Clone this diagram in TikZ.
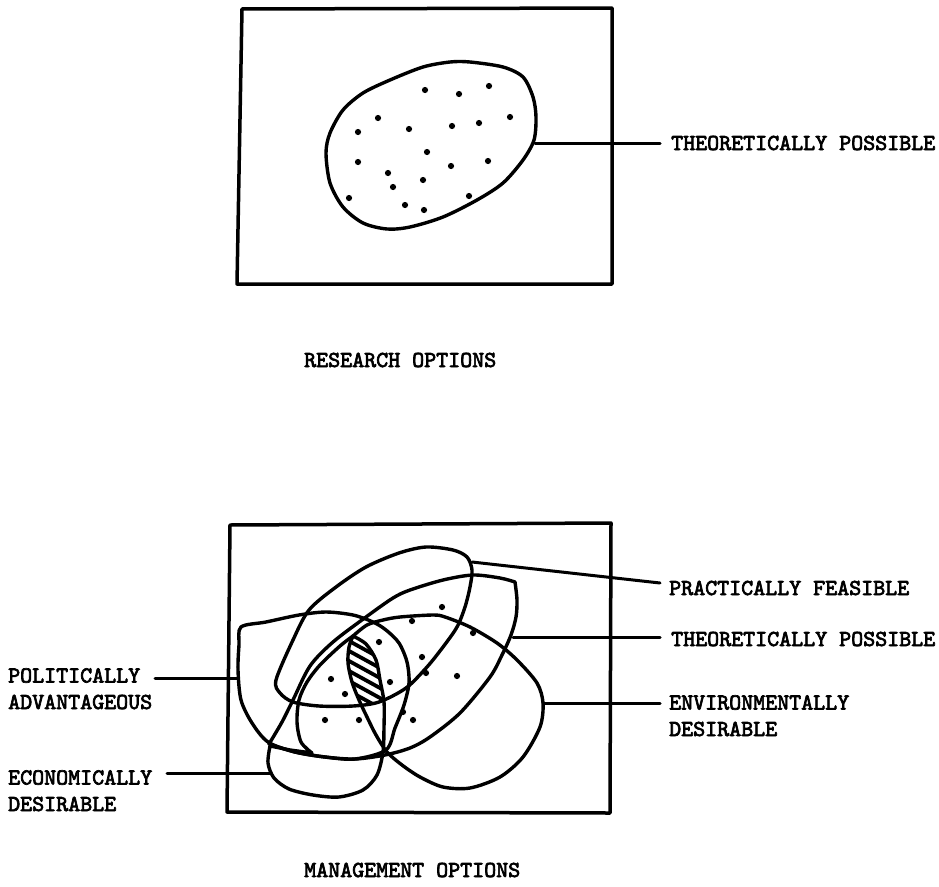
\documentclass[tikz,border=0pt]{standalone}
\usepackage{fontspec}
\newfontfamily\typewriter{lmmono10-regular.otf}[FakeBold=3]
\begin{document}
\begin{tikzpicture}[x=1pt,y=-1pt,
  frame/.style={line width=3.5pt, line join=round, line cap=round},
  region/.style={line width=3.4pt, line join=round, line cap=round},
  leader/.style={line width=3pt, line cap=round},
  label/.style={font=\typewriter\fontsize{22.86}{26.5}\selectfont,
    inner sep=0pt, anchor=base west, align=left}]
\useasboundingbox (0,0) rectangle (939,886);

% ---------- research options ----------
\draw[frame] (242,9) -- (612,8) -- (612,284) -- (237,284) -- cycle;
\draw[region] plot[smooth cycle] coordinates {(470,62) (503,67) (523,77) (533,97)
  (536,117) (534,140) (523,160) (503,183) (477,200) (443,217) (410,227) (387,229)
  (363,223) (343,207) (330,183) (326,153) (330,133) (343,110) (363,93) (390,80)
  (423,67) (450,62)};
\foreach \x/\y in {425/90,459/94,489/86,378/118,358/132,409/129,452/126,479/123,
  510/117,427/152,358/162,388/173,451/166,488/161,423/180,393/187,349/198,
  405/205,424/210,469/196}
  \fill (\x,\y) circle[radius=3.1pt];
\coordinate (tpA-hit) at (535,143);
\coordinate (tpA-lead) at (660,143);
\node[label] (tpA-label) at (671,150) {THEORETICALLY POSSIBLE};
\draw[leader] (tpA-hit) -- (tpA-lead);
\node[label] (research) at (304,367) {RESEARCH OPTIONS};

% ---------- management options ----------
\draw[frame] (230,525) -- (611,523) -- (610,813) -- (227,812) -- cycle;

\def\pfpath{plot[smooth cycle] coordinates {(276,680) (293,640) (309,610) (336,587)
  (366,567) (399,553) (426,547) (453,550) (467,557) (472,570) (470,587) (465,607)
  (457,627) (443,647) (427,667) (406,688) (379,702) (353,706) (319,706) (293,702)
  (280,693)}}
\def\tppath{plot[smooth] coordinates {(515,582) (517,600) (516,617) (511,635)
  (502,655) (490,677) (460,713) (430,737) (410,748) (385,755) (355,759) (325,757)
  (295,752) (269,744)} -- plot[smooth] coordinates {(269,744) (282,722) (293,700)
  (310,666) (333,642) (366,617) (393,598) (410,590) (443,580) (473,575) (500,578)
  (515,582)} -- cycle}
\def\papath{plot[smooth cycle, tension=.5] coordinates {(241,627) (266,622)
  (299,615) (326,612) (353,615) (373,622) (386,630) (399,643) (407,662) (409,683)
  (404,705) (395,728) (386,750) (355,759) (325,757) (295,752) (268,742) (252,723)
  (241,700) (238,670) (239,645)}}
\def\edpath{plot[smooth] coordinates {(312,753) (301,742) (297,722) (299,700)
  (307,682) (320,665) (340,646) (353,636)} -- plot[smooth] coordinates {(353,636)
  (366,644) (376,660) (380,680) (384,702) (384,727) (383,752) (377,775) (363,790)
  (339,797) (313,795) (289,789) (274,778) (268,763) (270,746)} -- (290,750) -- cycle}
\def\envpath{plot[smooth] coordinates {(353,636) (367,625) (383,620) (400,617)
  (433,615) (445,617) (470,627) (497,643) (517,660) (537,683) (543,703) (540,727)
  (523,757) (500,777) (470,788) (443,787) (420,777) (402,765) (387,752) (376,735)
  (367,717) (359,700) (352,682) (348,663) (349,647) (353,636)} -- cycle}

% shaded common ground of all the sets
\begin{scope}
  \clip \envpath;
  \clip \edpath;
  \clip \pfpath;
  \foreach \k in {0,...,14}
    \draw[line width=3.8pt] (320,585+10*\k) -- ++(80,44);
\end{scope}

\draw[region] \pfpath;
\draw[region] \tppath;
\draw[region] \papath;
\draw[region] \edpath;
\draw[region] \envpath;

\foreach \x/\y in {442/607,412/621,473/633,379/642,422/657,426/673,457/676,
  331/679,390/682,345/694,403/712,413/720,325/720,359/720}
  \fill (\x,\y) circle[radius=3.1pt];

% labels and leaders
\node[label] (pf-label) at (669,595) {PRACTICALLY FEASIBLE};
\node[label] (tpB-label) at (671,646) {THEORETICALLY POSSIBLE};
\node[label] (env-label) at (669,736) {ENVIRONMENTALLY\\DESIRABLE};
\node[label] (pa-label) at (8,709) {POLITICALLY\\ADVANTAGEOUS};
\node[label] (ed-label) at (8,811) {ECONOMICALLY\\DESIRABLE};

\coordinate (pf-hit) at (472,562);   \coordinate (pf-lead) at (660,583);
\coordinate (tpB-hit) at (513,637);  \coordinate (tpB-lead) at (660,637);
\coordinate (env-hit) at (543,703);  \coordinate (env-lead) at (660,703);
\coordinate (pa-lead) at (155,678);  \coordinate (pa-hit) at (238,678);
\coordinate (ed-lead) at (167,773);  \coordinate (ed-hit) at (270,773);

\draw[leader] (pf-hit) -- (pf-lead);
\draw[leader] (tpB-hit) -- (tpB-lead);
\draw[leader] (env-hit) -- (env-lead);
\draw[leader] (pa-lead) -- (pa-hit);
\draw[leader] (ed-lead) -- (ed-hit);

\node[label] (management) at (304,877) {MANAGEMENT OPTIONS};
\end{tikzpicture}
\end{document}
